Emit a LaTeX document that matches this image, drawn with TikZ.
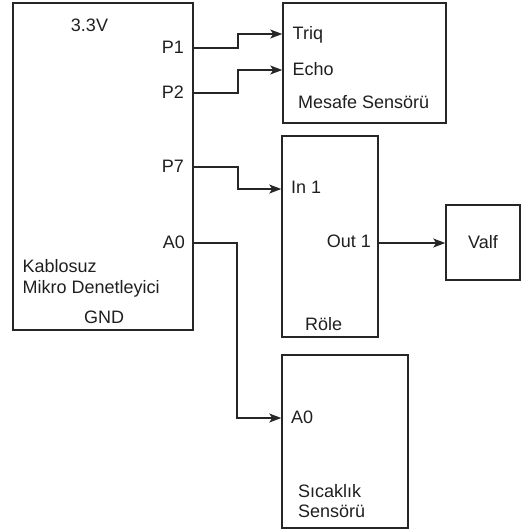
\documentclass[tikz,border=0pt]{standalone}
\usepackage{fontspec}
\setmainfont{Liberation Sans}
\usetikzlibrary{arrows.meta}
\begin{document}
\begin{tikzpicture}[x=1pt,y=-1pt,
  box/.style={draw=black!85,line width=1.5pt,inner sep=0pt},
  lbl/.style={inner sep=0pt,text=black!88,font=\fontsize{18}{20}\selectfont},
  conn/.style={draw=black!85,line width=1.5pt,-{Stealth[length=12pt,width=9pt,inset=3pt]}}]
\useasboundingbox (0,0) rectangle (521,531);
% boxes
\node[box,minimum width=180pt,minimum height=327pt] (main) at (103,166.5) {};
\node[box,minimum width=163pt,minimum height=120pt] (mesafe) at (364.5,63) {};
\node[box,minimum width=96pt,minimum height=201pt] (role) at (330,236.5) {};
\node[box,minimum width=74pt,minimum height=75pt] (valf) at (483,242.5) {};
\node[box,minimum width=126pt,minimum height=173pt] (sicak) at (345,441.5) {};
% main texts
\node[lbl,anchor=base] (v33) at (89.5,31) {3.3V};
\node[lbl,anchor=base east] (p1) at (184,53) {P1};
\node[lbl,anchor=base east] (p2) at (184,98) {P2};
\node[lbl,anchor=base east] (p7) at (184,172) {P7};
\node[lbl,anchor=base east] (a0) at (185,248) {A0};
\node[lbl,anchor=base west] (kab) at (22.5,272) {Kablosuz};
\node[lbl,anchor=base west] (mik) at (22.5,293) {Mikro Denetleyici};
\node[lbl,anchor=base] (gnd) at (104,323) {GND};
% mesafe texts
\node[lbl,anchor=base west] (triq) at (292.5,39) {Triq};
\node[lbl,anchor=base west] (echo) at (292.5,75) {Echo};
\node[lbl,anchor=base west] (mstxt) at (298,108) {Mesafe Sensörü};
% role texts
\node[lbl,anchor=base west] (in1) at (291,193) {In 1};
\node[lbl,anchor=base east] (out1) at (371,247) {Out 1};
\node[lbl,anchor=base west] (roletxt) at (305,330) {Röle};
% valf
\node[lbl,anchor=base] (valftxt) at (483,248) {Valf};
% sicaklik texts
\node[lbl,anchor=base west] (sa0) at (291,423) {A0};
\node[lbl,anchor=base west] (sc1) at (298,497) {Sıcaklık};
\node[lbl,anchor=base west] (sc2) at (298,517) {Sensörü};
% connectors
\coordinate (c1) at (0,48);
\coordinate (c1b) at (0,34);
\coordinate (c2) at (0,93);
\coordinate (c2b) at (0,70);
\coordinate (c7) at (0,167);
\coordinate (c7b) at (0,189);
\coordinate (ca) at (0,243);
\coordinate (cab) at (0,418);
\draw[conn] (main.east |- c1) -- (238,48) -- (238,34) -- (mesafe.west |- c1b);
\draw[conn] (main.east |- c2) -- (238,93) -- (238,70) -- (mesafe.west |- c2b);
\draw[conn] (main.east |- c7) -- (238,167) -- (238,189) -- (role.west |- c7b);
\draw[conn] (main.east |- ca) -- (237,243) -- (237,418) -- (sicak.west |- cab);
\draw[conn] (role.east |- ca) -- (valf.west |- ca);
\end{tikzpicture}
\end{document}
